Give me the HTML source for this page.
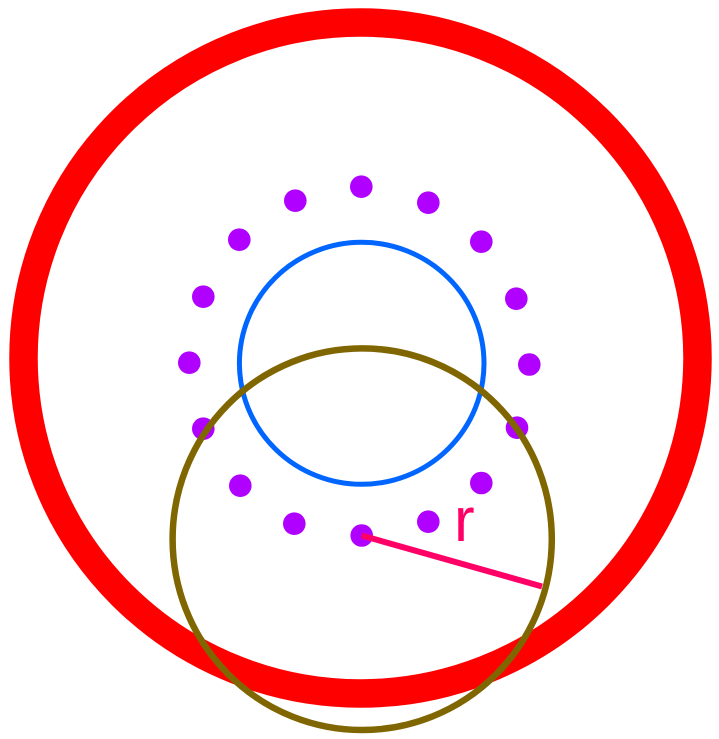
<!DOCTYPE html>
<html><head><meta charset="utf-8"><style>
html,body{margin:0;padding:0;background:#fff;}
svg{display:block;}
</style></head><body>
<svg width="719" height="739" viewBox="0 0 719 739" xmlns="http://www.w3.org/2000/svg">
<rect width="719" height="739" fill="#fff"/>
<ellipse cx="360.5" cy="358" rx="337" ry="335.5" fill="none" stroke="#ff0000" stroke-width="28.5"/>
<ellipse cx="361.7" cy="363.3" rx="122.3" ry="121" fill="none" stroke="#0066ff" stroke-width="5"/>
<g fill="#b000ff">
<circle cx="361.3" cy="186.7" r="11.3"/>
<circle cx="295.3" cy="200.7" r="11.3"/>
<circle cx="428.3" cy="202.7" r="11.3"/>
<circle cx="239.3" cy="239.7" r="11.3"/>
<circle cx="481.3" cy="241.7" r="11.3"/>
<circle cx="203.3" cy="296.7" r="11.3"/>
<circle cx="516.3" cy="298.7" r="11.3"/>
<circle cx="189.3" cy="362.7" r="11.3"/>
<circle cx="529.3" cy="364.5" r="11.3"/>
<circle cx="203.3" cy="428.7" r="11.3"/>
<circle cx="517" cy="427.7" r="11.3"/>
<circle cx="240.3" cy="485.7" r="11.3"/>
<circle cx="481.3" cy="483" r="11.3"/>
<circle cx="294.3" cy="523.7" r="11.3"/>
<circle cx="428.3" cy="521.7" r="11.3"/>
<circle cx="361.7" cy="535.5" r="11.3"/>
</g>
<line x1="361.7" y1="535.5" x2="542" y2="586.5" stroke="#ff0066" stroke-width="6"/>
<ellipse cx="362.2" cy="539.2" rx="189.6" ry="190.8" fill="none" stroke="#806600" stroke-width="6.5"/>
<text x="454" y="541" font-family="'Liberation Sans', sans-serif" font-size="62" fill="#ff0066">r</text>
</svg>
</body></html>
